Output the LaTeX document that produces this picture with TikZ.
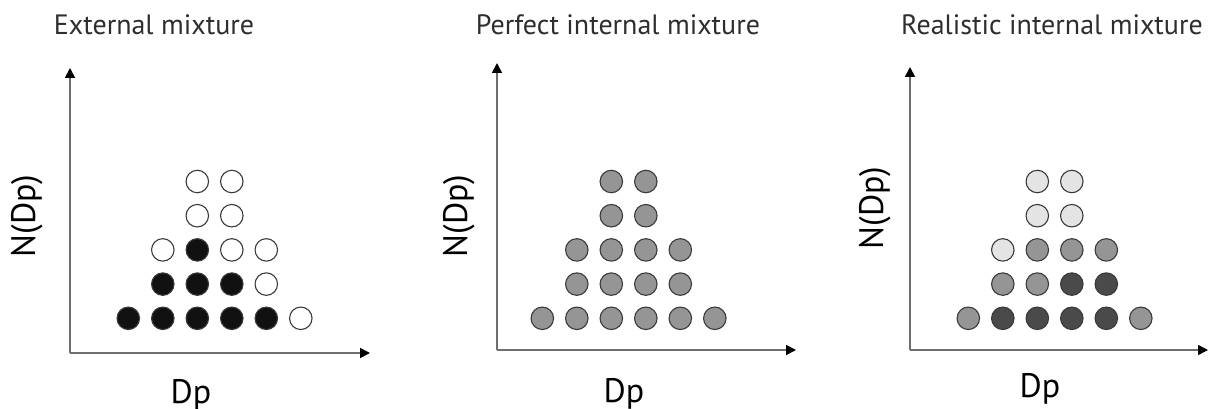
\documentclass[tikz,border=0pt]{standalone}
\usepackage{fontspec}
\setmainfont{PT Sans}
\usetikzlibrary{arrows.meta}
\definecolor{axisgray}{HTML}{6E6E6E}
\definecolor{rimgray}{HTML}{3A3A3A}
\definecolor{titlegray}{HTML}{2E2E2E}
\definecolor{pdark}{HTML}{111111}
\definecolor{pwhite}{HTML}{FFFFFF}
\definecolor{pmid}{HTML}{959595}
\definecolor{plight}{HTML}{E4E4E4}
\definecolor{pdeep}{HTML}{4A4A4A}
\begin{document}
\begin{tikzpicture}[x=1pt,y=-1pt,
  axis/.style={draw=axisgray, line width=1.6pt,
    -{Triangle[length=10pt,width=10pt,color=black]}},
  particle/.style={circle, draw=rimgray, line width=1.1pt,
    minimum size=22.5pt, inner sep=0pt},
  paneltitle/.style={font=\fontsize{28}{32}\selectfont, text=titlegray, anchor=base},
  xlabel/.style={font=\fontsize{34}{40}\selectfont, anchor=base},
  ylabel/.style={font=\fontsize{34}{40}\selectfont, rotate=90}
]
\useasboundingbox (0,0) rectangle (1209,409);

% ---------- panel 1: external mixture ----------
\node[paneltitle] (t1) at (154,35) {External mixture};
\coordinate (o1) at (70,353);
\coordinate (y1) at (70,68);
\coordinate (x1) at (370,353);
\draw[axis] (o1) -- (y1);
\draw[axis] (o1) -- (x1);
\node[xlabel] (dx1) at (191,403) {Dp};
\node[ylabel] (dy1) at (27,216) {N(Dp)};
\foreach \c/\r/\f in {0/1/pdark,1/1/pdark,2/1/pdark,3/1/pdark,4/1/pdark,5/1/pwhite,
                      1/2/pdark,2/2/pdark,3/2/pdark,4/2/pwhite,
                      1/3/pwhite,2/3/pdark,3/3/pwhite,4/3/pwhite,
                      2/4/pwhite,3/4/pwhite,
                      2/5/pwhite,3/5/pwhite}
  \node[particle, fill=\f] (a-\r-\c) at (128.3+\c*34.5, 318.3-\r*34.2+34.2) {};

% ---------- panel 2: perfect internal mixture ----------
\node[paneltitle] (t2) at (618,35) {Perfect internal mixture};
\coordinate (o2) at (497,350);
\coordinate (y2) at (497,63);
\coordinate (x2) at (796,350);
\draw[axis] (o2) -- (y2);
\draw[axis] (o2) -- (x2);
\node[xlabel] (dx2) at (624,402) {Dp};
\node[ylabel] (dy2) at (459,216) {N(Dp)};
\foreach \c/\r in {0/1,1/1,2/1,3/1,4/1,5/1,
                   1/2,2/2,3/2,4/2,
                   1/3,2/3,3/3,4/3,
                   2/4,3/4,
                   2/5,3/5}
  \node[particle, fill=pmid] (b-\r-\c) at (542.3+\c*34.5, 318.3-\r*34.2+34.2) {};

% ---------- panel 3: realistic internal mixture ----------
\node[paneltitle] (t3) at (1052,35) {Realistic internal mixture};
\coordinate (o3) at (910,350);
\coordinate (y3) at (910,67);
\coordinate (x3) at (1208,350);
\draw[axis] (o3) -- (y3);
\draw[axis] (o3) -- (x3);
\node[xlabel] (dx3) at (1040,397) {Dp};
\node[ylabel] (dy3) at (875,208) {N(Dp)};
\foreach \c/\r/\f in {0/1/pmid,1/1/pdeep,2/1/pdeep,3/1/pdeep,4/1/pdeep,5/1/pmid,
                      1/2/pmid,2/2/pmid,3/2/pdeep,4/2/pdeep,
                      1/3/plight,2/3/pmid,3/3/pmid,4/3/pmid,
                      2/4/plight,3/4/plight,
                      2/5/plight,3/5/plight}
  \node[particle, fill=\f] (c-\r-\c) at (968.3+\c*34.5, 318.3-\r*34.2+34.2) {};
\end{tikzpicture}
\end{document}
